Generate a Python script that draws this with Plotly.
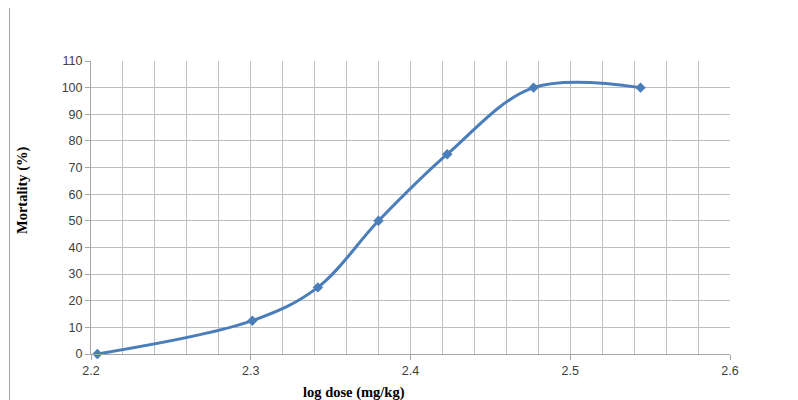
import plotly.graph_objects as go

log_dose = [2.204, 2.301, 2.342, 2.380, 2.423, 2.477, 2.544]
mortality = [0, 12.5, 25, 50, 75, 100, 100]
x_ticks = [2.2, 2.3, 2.4, 2.5, 2.6]
x_tick_labels = ["2.2", "2.3", "2.4", "2.5", "2.6"]
y_ticks = list(range(0, 111, 10))

# page has an 8px body offset
OFF = 8
W, H = 798, 400
L, T = 91 - OFF, 61 - OFF
R = W - (730 - OFF)
B = H - (354 - OFF)
PW, PH = W - L - R, H - T - B

fig = go.Figure()
fig.add_trace(go.Scatter(
    x=log_dose, y=mortality, mode="lines+markers",
    line=dict(color="#4A7EBB", width=3, shape="spline", smoothing=1.0),
    marker=dict(symbol="diamond", size=8, color="#4A7EBB"),
    showlegend=False, cliponaxis=False,
))

axis_common = dict(
    showgrid=True, gridcolor="#BFBFBF", gridwidth=1,
    showline=True, linecolor="#A6A6A6", linewidth=1,
    ticks="outside", ticklen=5, tickcolor="#A6A6A6",
    tickfont=dict(family="Liberation Sans", size=12.5, color="#404040"),
    zeroline=False,
)

def px_x(x):
    return (x - OFF - L) / PW

def px_y(y):
    return 1 - (y - OFF - T) / PH

fig.update_layout(
    width=W, height=H,
    margin=dict(l=L, r=R, t=T, b=B),
    paper_bgcolor="white", plot_bgcolor="white",
    xaxis=dict(range=[2.2, 2.6], tickvals=x_ticks, ticktext=x_tick_labels,
               minor=dict(dtick=0.02, tick0=2.2, showgrid=True, gridcolor="#BFBFBF", gridwidth=1),
               mirror=False, **axis_common),
    yaxis=dict(range=[0, 110], tickvals=y_ticks, **axis_common),
    annotations=[
        dict(text="<b>log dose (mg/kg)</b>", xref="paper", yref="paper",
             x=px_x(354), y=px_y(392),
             showarrow=False, xanchor="center", yanchor="middle",
             font=dict(family="Liberation Serif", size=14.5, color="#000000")),
        dict(text="<b>Mortality (%)</b>", xref="paper", yref="paper",
             x=px_x(22), y=px_y(190),
             showarrow=False, xanchor="center", yanchor="middle", textangle=-90,
             font=dict(family="Liberation Serif", size=14.5, color="#000000")),
    ],
    shapes=[
        dict(type="line", xref="paper", yref="paper",
             x0=px_x(9.5), x1=px_x(9.5),
             y0=-B / PH, y1=1 + T / PH,
             line=dict(color="#A6A6A6", width=1)),
    ],
)

fig.write_html("out.html")
